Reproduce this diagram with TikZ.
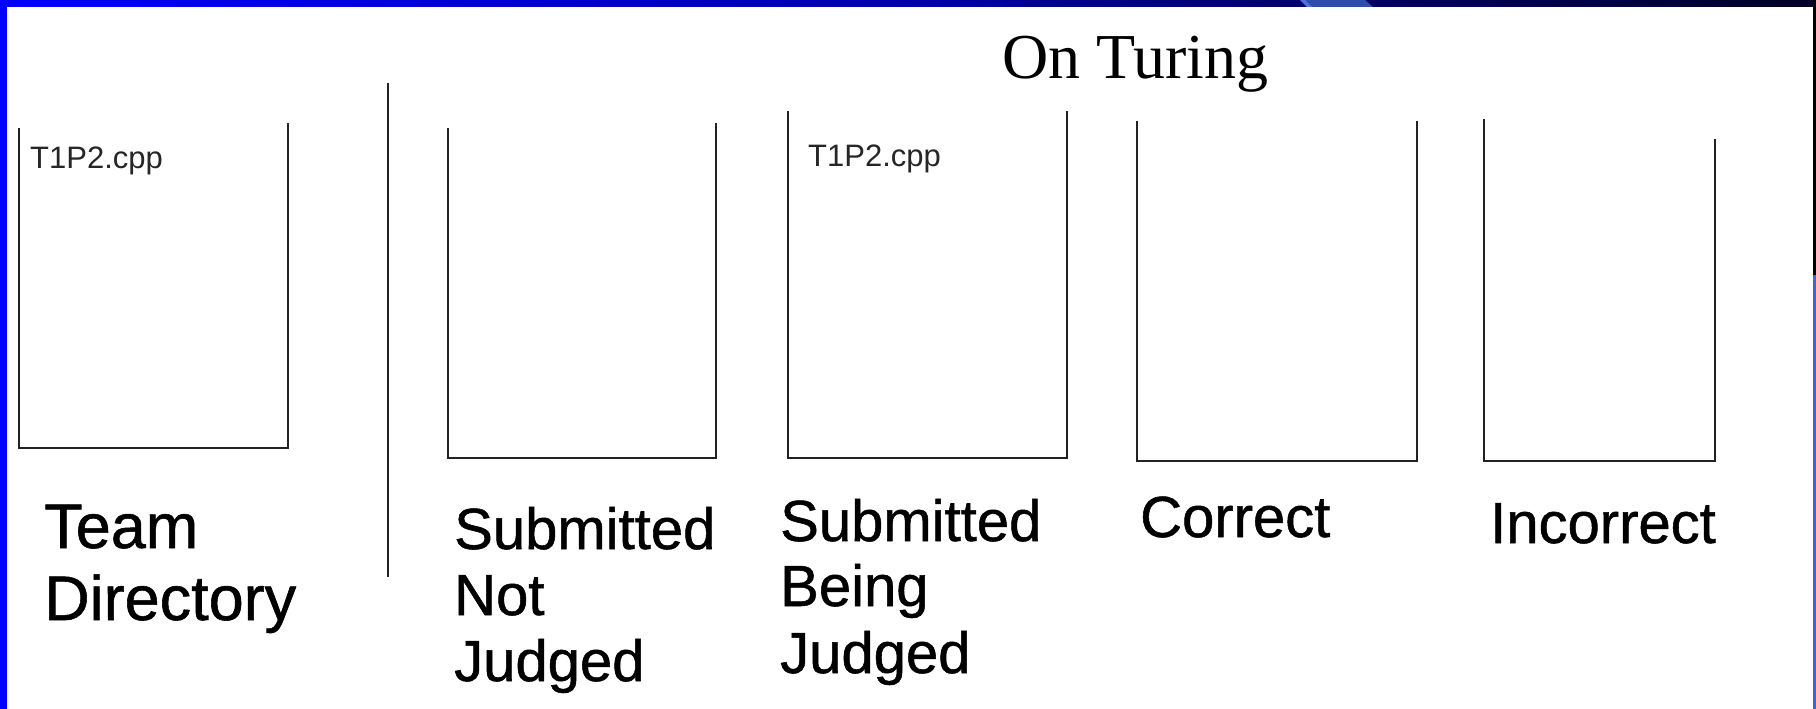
\documentclass[tikz,border=0pt]{standalone}
\usepackage{fontspec}
\setmainfont{Liberation Serif}
\newfontfamily\arialfont{Liberation Sans}
\newfontfamily\arialheavy[FakeBold=0.9]{Liberation Sans}
\definecolor{barleft}{HTML}{0000FF}
\definecolor{barmid}{HTML}{0000A8}
\definecolor{barright}{HTML}{000026}
\definecolor{barband}{HTML}{2C4CB0}
\definecolor{bandedge}{HTML}{4A72E6}
\definecolor{rightlow}{HTML}{3366EE}
\definecolor{binline}{HTML}{222222}
\tikzset{
  binbox/.style={draw=binline, line width=1.8pt, line join=miter},
  seplinestyle/.style={draw=binline, line width=1.8pt},
  lbl/.style={anchor=base west, inner sep=0pt, text=black, font=\arialheavy\fontsize{58}{66}\selectfont},
  biglbl/.style={anchor=base west, inner sep=0pt, text=black, font=\arialheavy\fontsize{63}{72}\selectfont},
  fname/.style={anchor=base west, inner sep=0pt, text=black!85, font=\arialfont\fontsize{31}{36}\selectfont},
  titlestyle/.style={anchor=base west, inner sep=0pt, text=black, font=\fontsize{64}{74}\selectfont}
}
\begin{document}
\begin{tikzpicture}[x=1pt,y=-1pt]
\useasboundingbox (0,0) rectangle (1816,709);
\fill[white] (0,0) rectangle (1816,709);
% frame
\shade[left color=barleft, right color=barmid] (0,0) rectangle (900,7);
\shade[left color=barmid, right color=barright] (900,0) rectangle (1816,7);
\fill[barband] (1300,0) -- (1365,0) -- (1373,7) -- (1307,7) -- cycle;
\fill[bandedge] (1300,0) -- (1305,0) -- (1312,7) -- (1307,7) -- cycle;
\fill[barleft] (0,0) rectangle (7,709);
\fill[black] (1813,0) rectangle (1816,275);
\fill[rightlow] (1813,275) rectangle (1816,709);

% title
\node[titlestyle] (title) at (1002,79) {On Turing};

% bins
\draw[binbox] (19,128) -- (19,448) -- (288,448) -- (288,123);
\draw[seplinestyle] (388,83) -- (388,577);
\draw[binbox] (448,128) -- (448,458) -- (716,458) -- (716,123);
\draw[binbox] (788,111) -- (788,458) -- (1067,458) -- (1067,111);
\draw[binbox] (1137,121) -- (1137,461) -- (1417,461) -- (1417,121);
\draw[binbox] (1484,119) -- (1484,461) -- (1715,461) -- (1715,139);

% files
\node[fname] (file1) at (30,168) {T1P2.cpp};
\node[fname] (file3) at (808,166) {T1P2.cpp};

% labels
\node[biglbl] (team1) at (44,548) {Team};
\node[biglbl] (team2) at (44,620) {Directory};

\node[lbl] (snj1) at (454,549) {Submitted};
\node[lbl] (snj2) at (454,615) {Not};
\node[lbl] (snj3) at (454,681) {Judged};

\node[lbl] (sbj1) at (780,541) {Submitted};
\node[lbl] (sbj2) at (780,606) {Being};
\node[lbl] (sbj3) at (780,673) {Judged};

\node[lbl] (corr) at (1140,537) {Correct};
\node[lbl] (incorr) at (1490,543) {Incorrect};
\end{tikzpicture}
\end{document}
